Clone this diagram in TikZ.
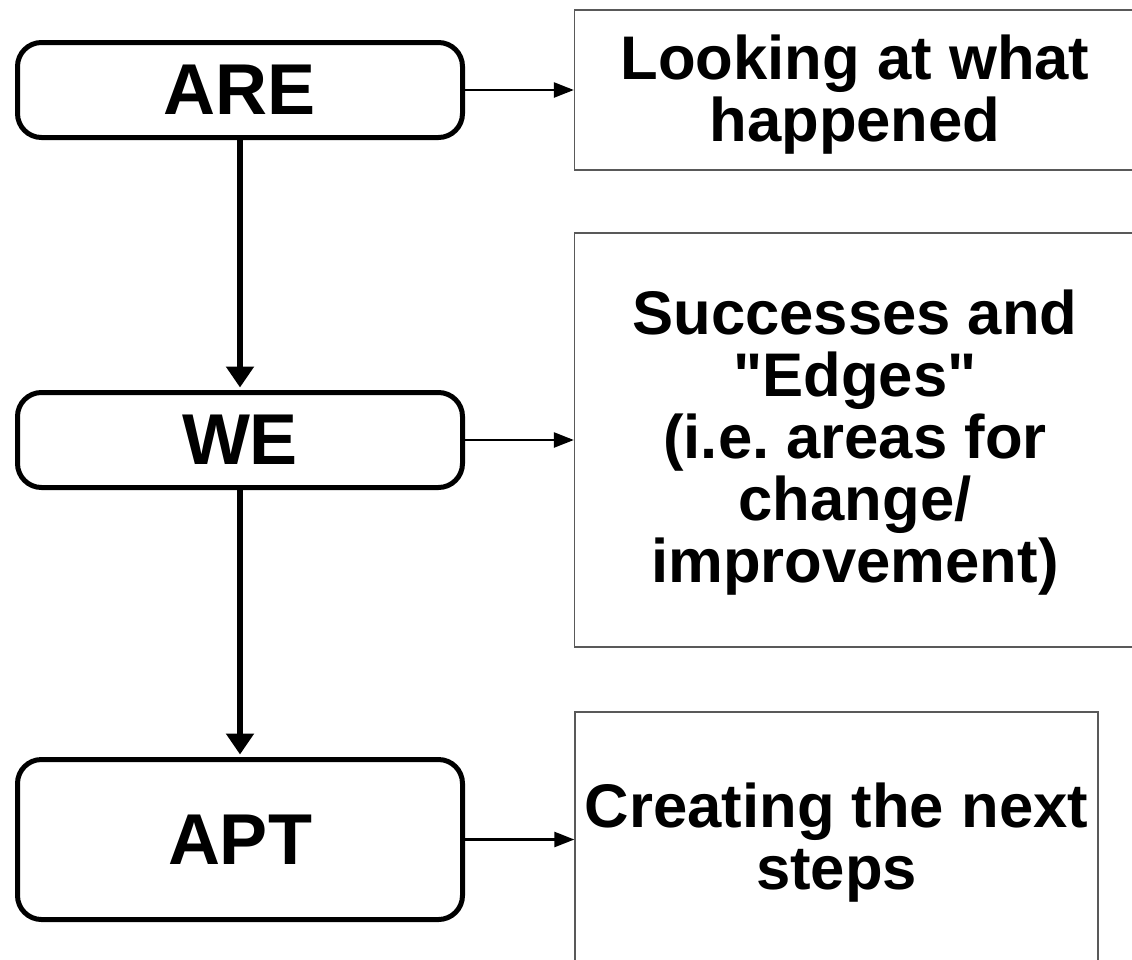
\documentclass[tikz,border=0pt]{standalone}
\usepackage{fontspec}
\setmainfont{Liberation Sans}[Ligatures=TeXOff]
\usetikzlibrary{arrows.meta}
\begin{document}
\frenchspacing
\begin{tikzpicture}[x=1pt,y=-1pt,
  stage/.style={draw=black, line width=5pt, rounded corners=24pt, fill=white,
    minimum width=445pt, inner sep=0pt,
    font=\fontsize{72}{84}\selectfont\bfseries},
  panel/.style={draw=black!65, line width=1.3pt, inner sep=0pt},
  paneltext/.style={align=center, inner sep=0pt,
    font=\fontsize{61.6}{62}\selectfont\bfseries},
  flow/.style={line width=6.5pt, -{Triangle[length=21pt,width=27pt]}},
  link/.style={line width=2.5pt, -{Triangle[length=20pt,width=15pt]}}
]
\useasboundingbox (0,0) rectangle (1132,959);
\clip (0,0) rectangle (1132,959);

% the three stages on the left
\node[stage, minimum height=95pt]  (are) at (240,90)    {ARE};
\node[stage, minimum height=95pt]  (we)  at (240,440)   {WE};
\node[stage, minimum height=160pt] (apt) at (240,839.5) {APT};

% the description panels on the right
\node[panel, minimum width=561pt, minimum height=160pt] (p1) at (855,90)    {};
\node[panel, minimum width=561pt, minimum height=414pt] (p2) at (855,440)   {};
\node[panel, minimum width=523pt, minimum height=252pt] (p3) at (836.5,838) {};

\node[paneltext] (t1) at (855,95)    {Looking at what\\happened};
\node[paneltext] (t2) at (855,443)   {Successes and\\"Edges"\\(i.e. areas for\\change/\\improvement)};
\node[paneltext] (t3) at (836.5,843) {Creating the next\\steps};

% flow between stages
\draw[flow, shorten >=2.5pt] (are.south) -- (we.north);
\draw[flow, shorten >=2.5pt] (we.south) -- (apt.north);

% links from each stage to its panel
\draw[link] (are.east) -- (are.east -| p1.west);
\draw[link] (we.east)  -- (we.east -| p2.west);
\draw[link] (apt.east) -- (apt.east -| p3.west);
\end{tikzpicture}
\end{document}
